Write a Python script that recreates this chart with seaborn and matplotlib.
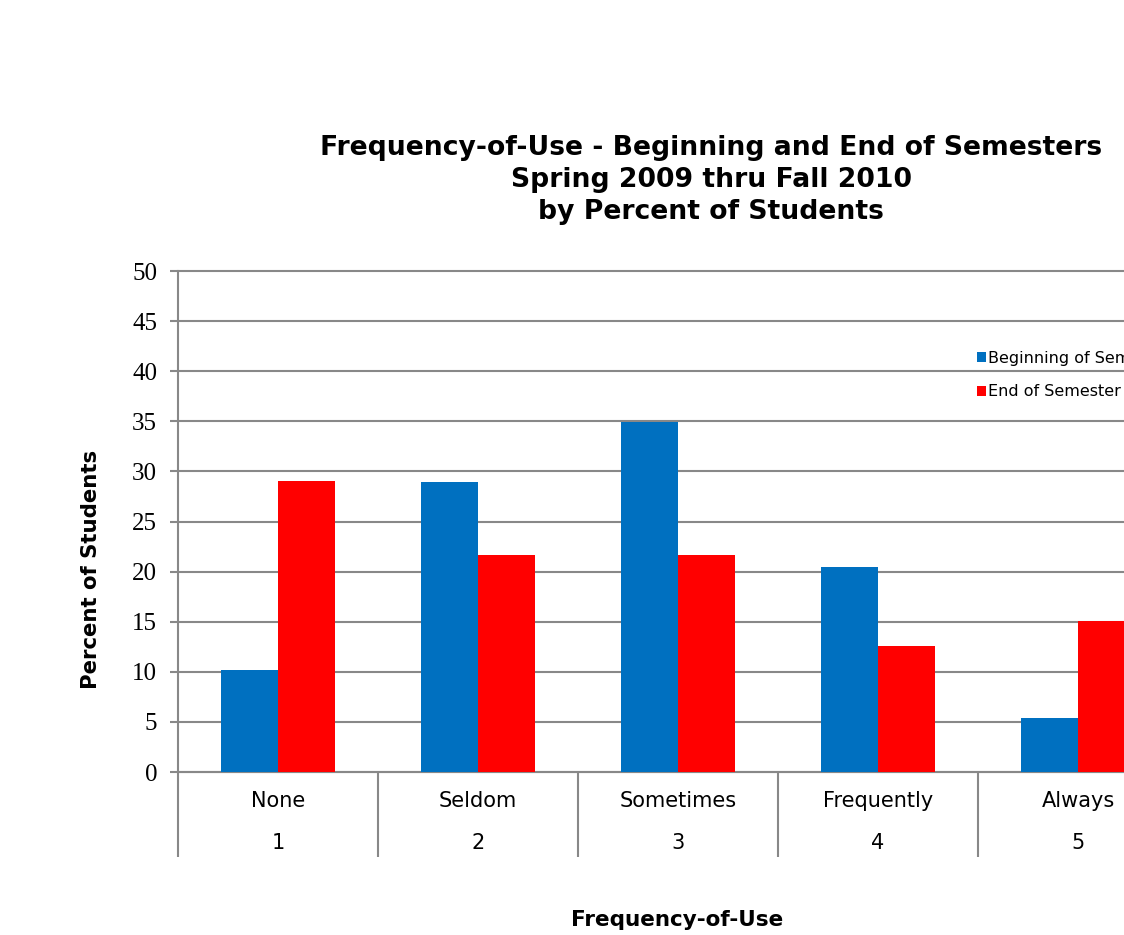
import matplotlib
matplotlib.use("Agg")
import pandas as pd
import numpy as np
import matplotlib.pyplot as plt
import seaborn as sns

categories = ["None", "Seldom", "Sometimes", "Frequently", "Always"]
codes = ["1", "2", "3", "4", "5"]
series = ["Beginning of Semester", "End of Semester"]
beginning = [10.2, 28.9, 34.9, 20.5, 5.4]
end = [29.0, 21.7, 21.7, 12.6, 15.1]
colors = ["#0070C0", "#FF0000"]

df = pd.DataFrame({
    "Frequency": categories * 2,
    "Series": [series[0]] * 5 + [series[1]] * 5,
    "Percent": beginning + end,
})

sns.set_style("white")
plt.rcParams["font.family"] = ["DejaVu Sans"]
plt.rcParams["text.color"] = "black"
plt.rcParams["xtick.labelcolor"] = "black"
plt.rcParams["ytick.labelcolor"] = "black"

grid_color = "#888888"

fig = plt.figure(figsize=(11.24, 9.35), dpi=100)
ax = fig.add_axes([0.1584, 0.1743, 0.8897, 0.5358])

sns.barplot(data=df, x="Frequency", y="Percent", hue="Series",
            order=categories, hue_order=series, palette=colors,
            width=0.57, saturation=1, linewidth=0, ax=ax, zorder=3)

ax.set_ylim(0, 50)
ax.set_xlim(-0.5, 4.5)
ax.set_yticks(np.arange(0, 51, 5))
ax.set_yticklabels([str(v) for v in range(0, 51, 5)],
                   fontfamily="Liberation Serif", fontsize=18)
ax.yaxis.grid(True, color=grid_color, linewidth=1.5, zorder=0)
for gl in ax.get_ygridlines():
    gl.set_clip_on(False)
ax.set_axisbelow(True)
ax.tick_params(axis="y", direction="out", length=6, width=1.5,
               color=grid_color, pad=9, left=True)

ax.set_xticks(range(5))
ax.set_xticklabels([f"{c}\n{n}" for c, n in zip(categories, codes)],
                   fontsize=15)
for lbl in ax.get_xticklabels():
    lbl.set_linespacing(2.4)
ax.tick_params(axis="x", length=0, pad=13.5)
ax.set_xticks(np.arange(-0.5, 5, 1), minor=True)
ax.tick_params(axis="x", which="minor", direction="out", length=61,
               width=1.5, color=grid_color, bottom=True)

for s in ["top", "right"]:
    ax.spines[s].set_visible(False)
for s in ["left", "bottom"]:
    ax.spines[s].set_color(grid_color)
    ax.spines[s].set_linewidth(1.5)

ax.set_xlabel("")
ax.set_ylabel("")
fig.text(0.081, 0.3914, "Percent of Students", rotation=90, fontsize=15.3,
         fontweight="bold", ha="center", va="center")
fig.text(0.602, 0.016, "Frequency-of-Use", fontsize=15.5, fontweight="bold",
         ha="center", va="center")
fig.text(0.6326, 0.8075, "Frequency-of-Use - Beginning and End of Semesters\n"
         "Spring 2009 thru Fall 2010\nby Percent of Students",
         fontsize=19.2, fontweight="bold", ha="center", va="center",
         linespacing=1.3)

handles, labels = ax.get_legend_handles_labels()
ax.legend(handles, labels, loc="upper left", bbox_to_anchor=(0.856, 0.640),
          bbox_transform=fig.transFigure, frameon=False, fontsize=11.5,
          handlelength=0.6, handleheight=0.6, handletextpad=0.15,
          labelspacing=1.15)

fig.savefig("out.png", dpi=100)
